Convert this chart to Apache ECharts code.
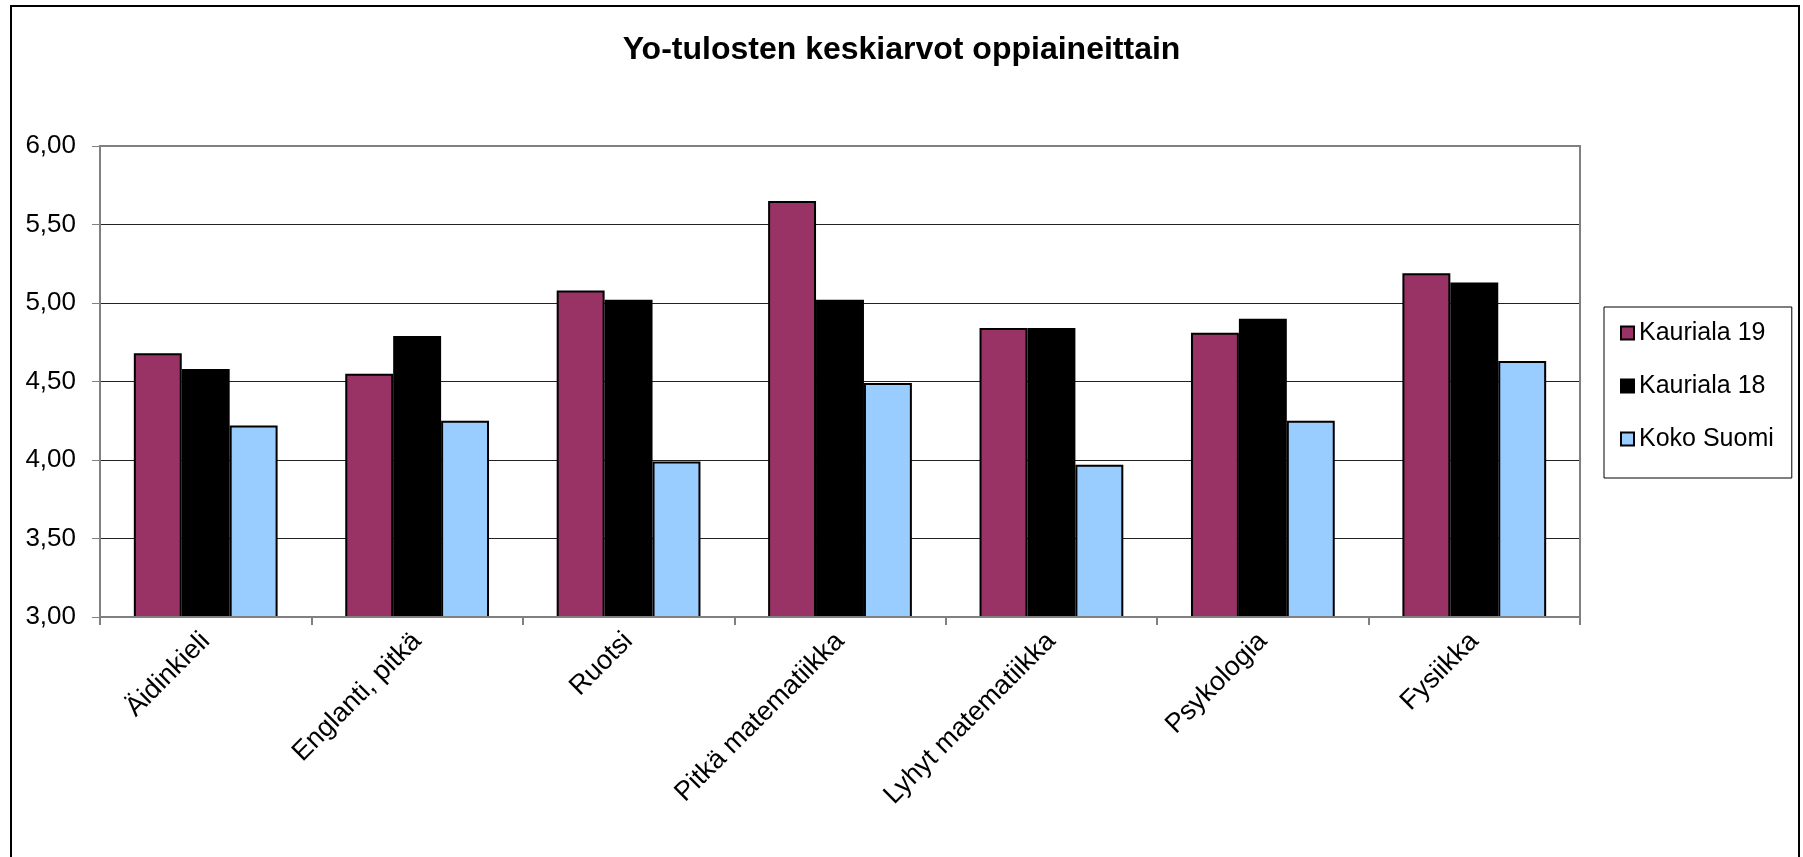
<!DOCTYPE html>
<html>
<head>
<meta charset="utf-8">
<script src="https://cdn.jsdelivr.net/npm/echarts@6/dist/echarts.min.js"></script>
<style>
html,body{margin:0;padding:0;background:#fff;}
#chart{width:1803px;height:857px;}
</style>
</head>
<body>
<div id="chart"></div>
<script>
const titleText = 'Yo-tulosten keskiarvot oppiaineittain';
const categories = ['Äidinkieli', 'Englanti, pitkä', 'Ruotsi', 'Pitkä matematiikka', 'Lyhyt matematiikka', 'Psykologia', 'Fysiikka'];
const seriesNames = ['Kauriala 19', 'Kauriala 18', 'Koko Suomi'];
const kauriala19 = [4.68, 4.55, 5.08, 5.65, 4.84, 4.81, 5.19];
const kauriala18 = [4.58, 4.79, 5.02, 5.02, 4.84, 4.90, 5.13];
const kokoSuomi = [4.22, 4.25, 3.99, 4.49, 3.97, 4.25, 4.63];
const yMin = 3, yMax = 6, yStep = 0.5;

const colors = ['#993366', '#000000', '#99CCFF'];
const FONT = "'Liberation Sans', Arial, sans-serif";

const chart = echarts.init(document.getElementById('chart'));
const mk = (name, data, color) => ({
  name: name,
  type: 'bar',
  data: data,
  barGap: '0%',
  barCategoryGap: '32%',
  itemStyle: { color: color, borderColor: '#000', borderWidth: 2 },
  emphasis: { disabled: true },
  animation: false
});

chart.setOption({
  animation: false,
  backgroundColor: '#fff',
  title: {
    text: titleText,
    left: 'center',
    top: 29,
    textStyle: { fontFamily: FONT, fontSize: 32, fontWeight: 'bold', color: '#000' }
  },
  legend: {
    orient: 'vertical',
    left: 1604,
    top: 307,
    padding: [13, 18, 26, 16],
    itemGap: 27,
    itemWidth: 13,
    itemHeight: 13,
    borderColor: '#000',
    borderWidth: 1,
    icon: 'rect',
    textStyle: { fontFamily: FONT, fontSize: 25, color: '#000', lineHeight: 26 },
    data: seriesNames
  },
  grid: { left: 100, right: 223, top: 146, bottom: 240, containLabel: false },
  xAxis: {
    type: 'category',
    data: categories,
    axisLine: { lineStyle: { color: '#808080', width: 2 } },
    axisTick: { show: true, length: 8, lineStyle: { color: '#808080', width: 2 } },
    axisLabel: {
      rotate: 45,
      margin: 20,
      interval: 0,
      fontFamily: FONT,
      fontSize: 27,
      color: '#000'
    }
  },
  yAxis: {
    type: 'value',
    min: yMin,
    max: yMax,
    interval: yStep,
    axisLine: { show: true, lineStyle: { color: '#808080', width: 2 } },
    axisTick: { show: true, length: 8, lineStyle: { color: '#808080', width: 1 } },
    axisLabel: {
      margin: 24,
      fontFamily: FONT,
      fontSize: 26,
      color: '#000',
      formatter: v => v.toFixed(2).replace('.', ',')
    },
    splitLine: { show: true, lineStyle: { color: '#222', width: 1 } }
  },
  graphic: [
    {
      type: 'rect',
      shape: { x: 11, y: 6, width: 1788, height: 900 },
      style: { fill: 'none', stroke: '#000', lineWidth: 2 },
      silent: true
    },
    {
      type: 'rect',
      shape: { x: 100, y: 146, width: 1480, height: 471 },
      style: { fill: 'none', stroke: '#808080', lineWidth: 2 },
      silent: true,
      z: 10
    }
  ],
  series: [
    mk(seriesNames[0], kauriala19, colors[0]),
    mk(seriesNames[1], kauriala18, colors[1]),
    mk(seriesNames[2], kokoSuomi, colors[2])
  ]
});
</script>
</body>
</html>
